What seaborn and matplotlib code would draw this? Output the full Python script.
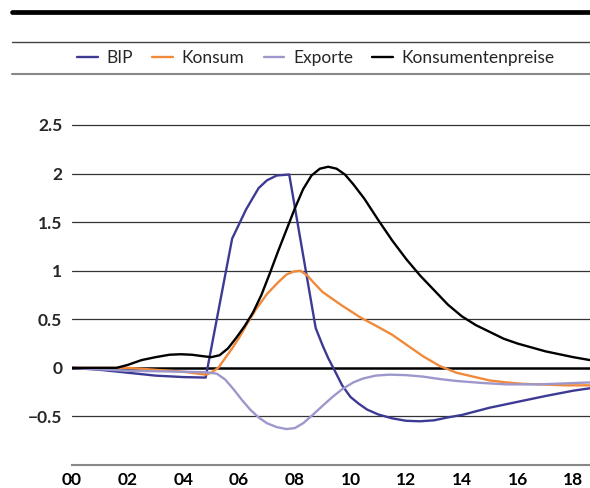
import seaborn as sns
import pandas as pd
import matplotlib.pyplot as plt
from matplotlib.lines import Line2D

# series (x = years since 2000)
bip_x = [0, 1, 2, 3, 4, 4.8, 5.75, 6.25, 6.7, 7.0, 7.35, 7.8, 8.75, 9.0, 9.2, 9.4, 9.7, 10.0,
         10.3, 10.6, 11.0, 11.5, 12.0, 12.5, 13.0, 13.5, 14.0, 15.0, 16.0, 17.0, 18.0, 18.6]
bip_y = [0, -0.02, -0.05, -0.08, -0.095, -0.1, 1.33, 1.63, 1.85, 1.93, 1.98, 1.99, 0.41, 0.23, 0.1,
         -0.01, -0.18, -0.3, -0.37, -0.43, -0.48, -0.52, -0.545, -0.55, -0.54, -0.51, -0.485, -0.41,
         -0.35, -0.29, -0.235, -0.21]

kon_x = [0, 2, 3, 4, 4.8, 5.0, 5.25, 5.5, 5.75, 6.0, 6.3, 6.6, 7.0, 7.4, 7.7, 7.95, 8.2, 8.45, 8.7,
         9.0, 9.3, 9.7, 10.35, 11.0, 11.5, 12.0, 12.6, 13.2, 13.8, 14.4, 15.0, 15.6, 16.2, 16.8,
         17.7, 18.6]
kon_y = [0, 0, -0.02, -0.04, -0.07, -0.05, 0, 0.1, 0.2, 0.31, 0.46, 0.6, 0.76, 0.88, 0.96, 0.99, 1.0,
         0.95, 0.87, 0.78, 0.72, 0.64, 0.52, 0.42, 0.34, 0.24, 0.12, 0.02, -0.05, -0.09, -0.13, -0.15,
         -0.165, -0.17, -0.18, -0.18]

exp_x = [0, 2, 4, 4.8, 5.2, 5.5, 5.8, 6.1, 6.4, 6.7, 7.0, 7.35, 7.7, 8.0, 8.3, 8.66, 9.0, 9.35,
         9.7, 10.1, 10.45, 10.9, 11.4, 12.0, 12.6, 13.2, 13.8, 14.7, 15.6, 16.8, 17.7, 18.6]
exp_y = [0, -0.03, -0.04, -0.045, -0.06, -0.12, -0.22, -0.33, -0.43, -0.51, -0.57, -0.61, -0.63, -0.62,
         -0.57, -0.48, -0.39, -0.3, -0.22, -0.15, -0.11, -0.08, -0.07, -0.075, -0.09, -0.115, -0.135,
         -0.155, -0.17, -0.17, -0.16, -0.15]

cpi_x = [0, 1, 1.6, 2.0, 2.5, 3.0, 3.5, 3.9, 4.3, 4.7, 5.0, 5.3, 5.6, 5.9, 6.2, 6.5, 6.8, 7.1, 7.4,
         7.7, 8.0, 8.3, 8.6, 8.9, 9.2, 9.5, 9.8, 10.1, 10.5, 11.0, 11.5, 12.0, 12.5, 13.0, 13.5, 14.0,
         14.5, 15.0, 15.5, 16.0, 16.5, 17.0, 17.5, 18.0, 18.6]
cpi_y = [0, 0, 0, 0.03, 0.08, 0.11, 0.135, 0.14, 0.135, 0.12, 0.11, 0.13, 0.2, 0.31, 0.43, 0.57, 0.75,
         0.97, 1.2, 1.42, 1.64, 1.84, 1.98, 2.05, 2.07, 2.05, 1.99, 1.89, 1.74, 1.52, 1.31, 1.12, 0.95,
         0.8, 0.65, 0.53, 0.44, 0.37, 0.3, 0.25, 0.21, 0.17, 0.14, 0.11, 0.08]

x_ticks = [0, 2, 4, 6, 8, 10, 12, 14, 16, 18]
x_labels = ['00', '02', '04', '06', '08', '10', '12', '14', '16', '18']
y_ticks = [-0.5, 0, 0.5, 1, 1.5, 2, 2.5]
y_labels = ['\u22120.5', '0', '0.5', '1', '1.5', '2', '2.5']

series = [('BIP', bip_x, bip_y, '#3d3a94'),
          ('Konsum', kon_x, kon_y, '#f08a3a'),
          ('Exporte', exp_x, exp_y, '#9d98cc'),
          ('Konsumentenpreise', cpi_x, cpi_y, '#000000')]

sns.set_style('white')
plt.rcParams['font.family'] = ['Lato', 'DejaVu Sans']

fig = plt.figure(figsize=(5.9, 4.88), dpi=100)
ax = fig.add_axes([72 / 590, 23 / 488, 518 / 590, 388.6 / 488])

for name, xs, ys, c in series:
    df = pd.DataFrame({'x': xs, 'y': ys})
    sns.lineplot(data=df, x='x', y='y', ax=ax, color=c, linewidth=1.7, label=name, legend=False)

for v in y_ticks:
    if v == 0:
        ax.axhline(0, color='black', linewidth=1.8, zorder=1)
    else:
        ax.axhline(v, color='#333333', linewidth=0.9, zorder=0)

ax.set_xlim(0, 18.6)
ax.set_ylim(-1, 3)
ax.set_xticks(x_ticks)
ax.set_xticklabels(x_labels, fontsize=12.5, fontweight='bold')
ax.set_yticks(y_ticks)
ax.set_yticklabels(y_labels, fontsize=12.5, fontweight='bold')
ax.set_xlabel('')
ax.set_ylabel('')
for s in ['top', 'right', 'left']:
    ax.spines[s].set_visible(False)
ax.spines['bottom'].set_color('#888888')
ax.spines['bottom'].set_linewidth(1.5)
ax.tick_params(axis='x', direction='in', length=6, width=1, color='#888888', pad=5, labelcolor='black')
ax.tick_params(axis='y', length=0, pad=7)

# decorative rules above the chart
fig.add_artist(Line2D([12 / 590, 1], [1 - 11.5 / 488] * 2, color='black', linewidth=3.4,
                      transform=fig.transFigure))
fig.add_artist(Line2D([12 / 590, 1], [1 - 41.5 / 488] * 2, color='#444444', linewidth=1.0,
                      transform=fig.transFigure))
fig.add_artist(Line2D([12 / 590, 1], [1 - 74 / 488] * 2, color='#888888', linewidth=1.5,
                      transform=fig.transFigure))

handles = [Line2D([], [], color=c, linewidth=1.7) for _, _, _, c in series]
fig.legend(handles, [n for n, _, _, _ in series], loc='center', bbox_to_anchor=(316 / 590, 1 - 58 / 488),
           ncol=4, frameon=False, fontsize=12.5, handlelength=1.2, handletextpad=0.5, columnspacing=1.1)

fig.savefig('out.png', dpi=100)
